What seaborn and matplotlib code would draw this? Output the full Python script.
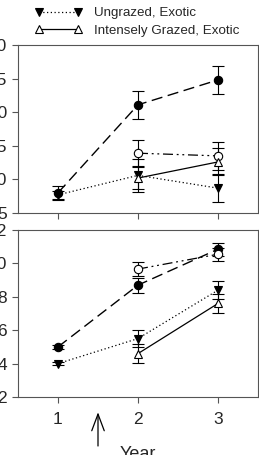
import numpy as np
import pandas as pd
import matplotlib
matplotlib.use("Agg")
import matplotlib.pyplot as plt
import seaborn as sns

years = [1, 2, 3]
year_ticks = ["1", "2", "3"]

# Top panel
top_ticks = [5, 10, 15, 20, 25, 30]
top_ung_nat = [8.0, 21.1, 24.8]
top_ung_nat_se = [1.0, 2.1, 2.1]
top_int_nat = [np.nan, 13.9, 13.5]
top_int_nat_se = [np.nan, 1.9, 2.1]
top_ung_exo = [7.7, 10.6, 8.7]
top_ung_exo_se = [0.6, 2.5, 2.1]
top_int_exo = [np.nan, 10.2, 12.6]
top_int_exo_se = [np.nan, 1.7, 2.0]

# Bottom panel
bot_ticks = [2, 4, 6, 8, 10, 12]
bot_ung_nat = [5.0, 8.7, 10.85]
bot_ung_nat_se = [0.12, 0.45, 0.4]
bot_int_nat = [np.nan, 9.66, 10.55]
bot_int_nat_se = [np.nan, 0.4, 0.4]
bot_ung_exo = [4.0, 5.5, 8.4]
bot_ung_exo_se = [0.1, 0.5, 0.55]
bot_int_exo = [np.nan, 4.6, 7.6]
bot_int_exo_se = [np.nan, 0.55, 0.55]

labels = ["Ungrazed, Native", "Intensely Grazed, Native",
          "Ungrazed, Exotic", "Intensely Grazed, Exotic"]

sns.set_style("ticks")
plt.rcParams["font.family"] = ["Liberation Sans", "DejaVu Sans"]

styles = {
    "Ungrazed, Native": dict(marker="o", mfc="black", ls=(0, (8, 4)), lw=1.0),
    "Intensely Grazed, Native": dict(marker="o", mfc="white", ls=(0, (8, 3, 1.5, 3, 1.5, 3)), lw=0.9),
    "Ungrazed, Exotic": dict(marker="v", mfc="black", ls=(0, (1, 2)), lw=0.9),
    "Intensely Grazed, Exotic": dict(marker="^", mfc="white", ls="-", lw=0.9),
}

fig = plt.figure(figsize=(2.59, 4.55), dpi=100)
W, H = 259, 455
ax_top = fig.add_axes([18 / W, (H - 213) / H, 240 / W, 168 / H])
ax_bot = fig.add_axes([18 / W, (H - 397) / H, 240 / W, 167 / H])

panels = [
    (ax_top, [top_ung_nat, top_int_nat, top_ung_exo, top_int_exo],
     [top_ung_nat_se, top_int_nat_se, top_ung_exo_se, top_int_exo_se], top_ticks),
    (ax_bot, [bot_ung_nat, bot_int_nat, bot_ung_exo, bot_int_exo],
     [bot_ung_nat_se, bot_int_nat_se, bot_ung_exo_se, bot_int_exo_se], bot_ticks),
]

handles = {}
for ax, vals, ses, ticks in panels:
    for lab, v, se in zip(labels, vals, ses):
        df = pd.DataFrame({"year": years, "value": v, "se": se}).dropna()
        st = styles[lab]
        ax.errorbar(df["year"], df["value"], yerr=df["se"], fmt="none",
                    ecolor="black", elinewidth=0.8, capsize=4.5, capthick=0.8, zorder=2)
        sns.lineplot(data=df, x="year", y="value", ax=ax, color="black",
                     linestyle=st["ls"], linewidth=st["lw"], marker=st["marker"],
                     markersize=6, markerfacecolor=st["mfc"], markeredgecolor="black",
                     markeredgewidth=0.8, zorder=3, legend=False)
        handles[lab] = ax.lines[-1]
    ax.set_xlim(0.5, 3.5)
    ax.set_ylim(ticks[0], ticks[-1])
    ax.set_yticks(ticks)
    ax.set_yticklabels([str(t) for t in ticks])
    ax.set_xticks(years)
    ax.set_xlabel("")
    ax.set_ylabel("")
    for s in ax.spines.values():
        s.set_visible(True)
        s.set_color("#555555")
        s.set_linewidth(0.8)
    ax.tick_params(axis="both", labelsize=12.5, length=4, width=0.8, color="#555555", pad=4)

ax_top.set_xticklabels([])
ax_bot.set_xticklabels(year_ticks)
ax_bot.tick_params(axis="x", pad=7)

# arrow marking start of grazing
ax_bot.annotate("", xy=(1.5, -0.075), xytext=(1.5, -0.31),
                xycoords=ax_bot.get_xaxis_transform(),
                textcoords=ax_bot.get_xaxis_transform(),
                arrowprops=dict(arrowstyle="->,head_length=1.2,head_width=0.45",
                                color="black", lw=0.9),
                annotation_clip=False)

fig.text(138 / W, (H - 446) / H, "Year", ha="center", va="top", fontsize=13)

fig.legend([handles["Ungrazed, Exotic"], handles["Intensely Grazed, Exotic"]],
           ["Ungrazed, Exotic", "Intensely Grazed, Exotic"],
           loc="upper left", bbox_to_anchor=(35 / W, (H - 7) / H),
           frameon=False, fontsize=9.6, numpoints=2, handlelength=3.5,
           handletextpad=0.9, labelspacing=0.38, borderpad=0, borderaxespad=0)

fig.savefig("out.png", dpi=100)
